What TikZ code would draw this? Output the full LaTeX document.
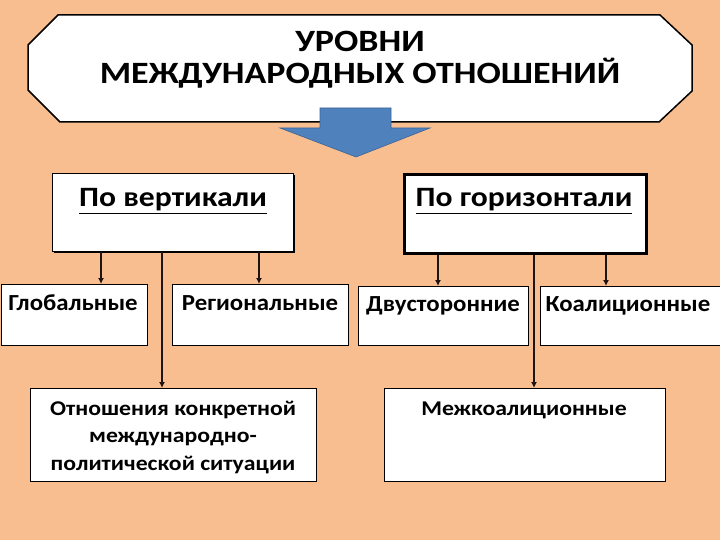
\documentclass[tikz,border=0pt]{standalone}
\usepackage{fontspec}
\setmainfont{Carlito}
\usetikzlibrary{arrows.meta,shadows}
\definecolor{bg}{RGB}{249,190,143}
\definecolor{arrowblue}{RGB}{79,129,189}
\definecolor{arrowedge}{RGB}{60,100,150}
\tikzset{
  box/.style={draw=black, fill=white, line width=0.9pt, inner sep=0pt, anchor=north west},
  darkshadow/.style={drop shadow={shadow xshift=2pt, shadow yshift=-2pt, fill=black, opacity=1}},
  titletxt/.style={font=\bfseries\fontsize{31}{33}\selectfont\addfontfeature{FakeStretch=1.16}, anchor=base, inner sep=0pt},
  txt/.style={font=\bfseries\fontsize{23}{27}\selectfont\addfontfeature{FakeStretch=1.08}, anchor=base, inner sep=0pt},
  head/.style={font=\bfseries\fontsize{28}{32}\selectfont\addfontfeature{FakeStretch=1.13}, anchor=base, inner sep=0pt},
  small/.style={font=\bfseries\fontsize{21}{27.5}\selectfont\addfontfeature{FakeStretch=1.13}, anchor=base, inner sep=0pt, align=center},
  conn/.style={line width=1.8pt, draw={rgb,255:red,30;green,20;blue,20}, -{Latex[length=6pt,width=6pt]}}
}
\begin{document}
\begin{tikzpicture}[x=1pt,y=-1pt]
\fill[bg] (0,0) rectangle (720,540);
\useasboundingbox (0,0) rectangle (720,540);

% title octagon
\draw[fill=white, line width=1.5pt] (58,15) -- (660,15) -- (692,45) -- (692,91) -- (659,122) -- (60,122) -- (28,90) -- (28,45) -- cycle;
\node[titletxt] (t1) at (360,52) {УРОВНИ};
\node[titletxt] (t2) at (360,84) {МЕЖДУНАРОДНЫХ ОТНОШЕНИЙ};

% block arrow
\draw[fill=arrowblue, draw=arrowedge, line width=0.6pt] (320,108) -- (391,108) -- (391,128) -- (430,128) -- (356,157) -- (280,128) -- (320,128) -- cycle;

% level 1 boxes
\node[box, darkshadow, minimum width=241pt, minimum height=78pt] (vert) at (52,173) {};
\node[box, line width=2.6pt, minimum width=242pt, minimum height=79pt] (horz) at (403,173) {};
\node[head] at (173,207) {\underline{По вертикали}};
\node[head] at (524,207) {\underline{По горизонтали}};

% level 2 boxes
\node[box, minimum width=146pt, minimum height=61pt] (glob) at (1,284) {};
\node[box, minimum width=176pt, minimum height=61pt] (reg) at (172,284) {};
\node[box, minimum width=170pt, minimum height=59pt] (dvu) at (358,286) {};
\node[box, minimum width=180pt, minimum height=59pt] (koal) at (540,286) {};
\node[txt] at (73,310) {Глобальные};
\node[txt] at (260,310) {Региональные};
\node[txt] at (443,311) {Двусторонние};
\node[txt] at (628,311) {Коалиционные};

% level 3 boxes
\node[box, minimum width=286pt, minimum height=93pt] (rel) at (30,388) {};
\node[box, minimum width=281pt, minimum height=93pt] (mezh) at (384,388) {};
\node[small] at (173,470) {Отношения конкретной\\международно-\\политической ситуации};
\node[small] at (524,415) {Межкоалиционные};

% connectors
\draw[conn] (vert.south -| 101,0) -- (glob.north -| 101,0);
\draw[conn] (vert.south -| 259,0) -- (reg.north -| 259,0);
\draw[conn] (vert.south -| 162,0) -- (rel.north -| 162,0);
\draw[conn] (horz.south -| 438,0) -- (dvu.north -| 438,0);
\draw[conn] (horz.south -| 606,0) -- (koal.north -| 606,0);
\draw[conn] (horz.south -| 534,0) -- (mezh.north -| 534,0);
\end{tikzpicture}
\end{document}
